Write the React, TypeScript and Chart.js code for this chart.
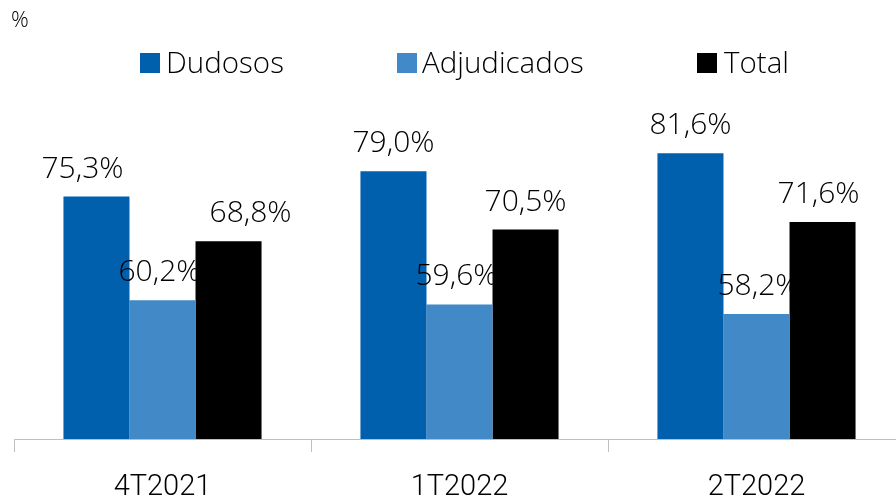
import React, { useEffect, useRef } from "react";
import { Chart, registerables } from "chart.js";

Chart.register(...registerables);

const categories = ["4T2021", "1T2022", "2T2022"];
const dudosos = [75.3, 79.0, 81.6];
const adjudicados = [60.2, 59.6, 58.2];
const total = [68.8, 70.5, 71.6];
const seriesNames = ["Dudosos", "Adjudicados", "Total"];
const seriesColors = ["#0060AE", "#4189C7", "#000000"];

const fmt = (v: number) => v.toFixed(1).replace(".", ",") + "%";

// small horizontal nudges of the value labels (dataset -> per category), as in the reference
const labelNudge = [
  [-14, 0, 0],
  [-3, -3, 2],
  [22, 0, -4],
];

const labelPlugin = {
  id: "barLabels",
  afterDatasetsDraw(chart: any) {
    const ctx = chart.ctx;
    ctx.save();
    ctx.font = "300 30px 'Open Sans', Lato, sans-serif";
    ctx.fillStyle = "#000";
    ctx.textAlign = "center";
    ctx.textBaseline = "alphabetic";
    chart.data.datasets.forEach((ds: any, i: number) => {
      const meta = chart.getDatasetMeta(i);
      meta.data.forEach((bar: any, j: number) => {
        ctx.fillText(fmt(ds.data[j]), bar.x + labelNudge[i][j], bar.y - 19);
      });
    });
    ctx.restore();
  },
};

export default function App() {
  const ref = useRef<HTMLCanvasElement>(null);
  useEffect(() => {
    const chart = new Chart(ref.current!, {
      type: "bar",
      data: {
        labels: categories,
        datasets: [dudosos, adjudicados, total].map((d, i) => ({
          label: seriesNames[i],
          data: d,
          backgroundColor: seriesColors[i],
          categoryPercentage: 0.667,
          barPercentage: 1,
        })),
      },
      options: {
        animation: false,
        responsive: false,
        layout: { padding: { left: 14, right: 5, top: 27, bottom: 0 } },
        plugins: { legend: { display: false }, tooltip: { enabled: false } },
        scales: {
          y: { display: false, min: 40, max: 100 },
          x: {
            afterFit: (s: any) => {
              s.height = 60;
            },
            grid: {
              offset: true,
              drawOnChartArea: false,
              drawTicks: true,
              tickLength: 13,
              color: "#BFBFBF",
            },
            border: { display: true, color: "#BFBFBF" },
            ticks: {
              color: "#000",
              padding: 18,
              font: { family: "Roboto, sans-serif", size: 29, weight: "300" as any },
            },
          },
        },
      },
      plugins: [labelPlugin],
    });
    return () => chart.destroy();
  }, []);

  const legendFont = "300 29.5px 'Open Sans', Lato, sans-serif";
  const legendItems = [
    { x: 140, tx: 166 },
    { x: 397, tx: 422 },
    { x: 697, tx: 724 },
  ];
  return (
    <div style={{ position: "fixed", left: 0, top: 0, width: 896, height: 499, overflow: "hidden", background: "#fff" }}>
      <canvas ref={ref} width={910} height={499} style={{ width: 910, height: 499, display: "block" }} />
      <div style={{ position: "absolute", left: 11, top: 3, font: "300 22px 'Open Sans', sans-serif", color: "#000" }}>%</div>
      {legendItems.map((it, i) => (
        <React.Fragment key={i}>
          <div style={{ position: "absolute", left: it.x, top: 53, width: 20, height: 20, background: seriesColors[i] }} />
          <div style={{ position: "absolute", left: it.tx, top: 42, font: legendFont, lineHeight: "40px", color: "#000", whiteSpace: "nowrap" }}>
            {seriesNames[i]}
          </div>
        </React.Fragment>
      ))}
    </div>
  );
}
